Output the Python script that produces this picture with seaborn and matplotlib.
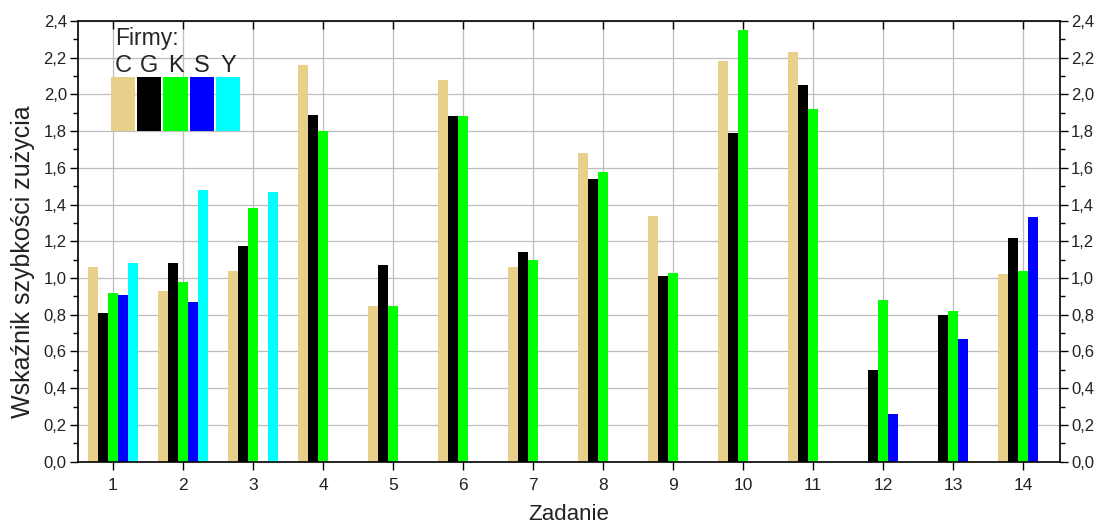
import pandas as pd
import matplotlib
matplotlib.use("Agg")
import matplotlib.pyplot as plt
import seaborn as sns
from matplotlib.patches import Rectangle
from matplotlib.ticker import MultipleLocator, FuncFormatter

tasks = list(range(1, 14 + 1))
firms = ["C", "G", "K", "S", "Y"]
colors = ["#E8D08A", "#000000", "#00FF00", "#0000FF", "#00FFFF"]

# None = no bar for that firm in that task
C = [1.06, 0.93, 1.04, 2.16, 0.85, 2.08, 1.06, 1.68, 1.34, 2.18, 2.23, None, None, 1.02]
G = [0.81, 1.08, 1.175, 1.89, 1.07, 1.88, 1.14, 1.54, 1.01, 1.79, 2.05, 0.50, 0.80, 1.22]
K = [0.92, 0.98, 1.38, 1.80, 0.85, 1.88, 1.10, 1.58, 1.03, 2.35, 1.92, 0.88, 0.82, 1.04]
S = [0.91, 0.87, None, None, None, None, None, None, None, None, None, 0.26, 0.67, 1.33]
Y = [1.08, 1.48, 1.47, None, None, None, None, None, None, None, None, None, None, None]

rows = []
for firm, vals in zip(firms, [C, G, K, S, Y]):
    for t, v in zip(tasks, vals):
        if v is not None:
            rows.append({"Zadanie": str(t), "firma": firm, "wartosc": v})
df = pd.DataFrame(rows)

sns.set_style("white")
plt.rcParams["font.family"] = ["Liberation Sans", "DejaVu Sans"]

fig = plt.figure(figsize=(10.95, 5.24), dpi=100)
ax = fig.add_axes([0.0712, 0.119, 0.8968, 0.841])

sns.barplot(data=df, x="Zadanie", y="wartosc", hue="firma",
            order=[str(t) for t in tasks], hue_order=firms,
            palette=colors, saturation=1, width=0.715, linewidth=0,
            dodge=True, legend=False, ax=ax)

ax.set_xlim(-0.5, 13.53)
ax.set_ylim(0, 2.4)
ax.yaxis.set_major_locator(MultipleLocator(0.2))
ax.yaxis.set_minor_locator(MultipleLocator(0.1))
ax.yaxis.set_major_formatter(FuncFormatter(lambda v, p: f"{v:.1f}".replace(".", ",")))
ax.grid(True, which="major", color="#bdbdbd", linewidth=0.9)
ax.set_axisbelow(True)

for s in ax.spines.values():
    s.set_visible(True)
    s.set_color("black")
    s.set_linewidth(1.2)

ax.tick_params(axis="y", which="both", left=True, right=True, labelright=True,
               direction="out", labelsize=12, color="black", labelcolor="#222222")
ax.tick_params(axis="y", which="major", length=6, width=1, pad=2)
ax.tick_params(axis="y", which="minor", length=3.5, width=1)
ax.tick_params(axis="x", bottom=True, top=True, direction="out", length=6,
               width=1, labelsize=12.5, color="black", labelcolor="#222222", pad=6)
for t in ax.xaxis.get_major_ticks():
    t.tick2line.set_marker(3)  # top ticks pointing inward

ax.set_xlabel("Zadanie", fontsize=16, color="#222222", va="top")
ax.xaxis.set_label_coords(0.5, -0.095)
ax.set_ylabel("Wskaźnik szybkości zużycia", fontsize=18, color="#222222")
ax.yaxis.set_label_coords(-0.044, 0.453)

# legend block in the upper left
ax.text(0.038, 0.945, "Firmy:", transform=ax.transAxes, fontsize=16.5,
        ha="left", va="baseline")
x0, w, gap = 0.0335, 0.0245, 0.0023
for i, (f, c) in enumerate(zip(firms, colors)):
    xi = x0 + i * (w + gap)
    ax.add_patch(Rectangle((xi, 0.751), w, 0.122, transform=ax.transAxes,
                           facecolor=c, edgecolor="none", zorder=5))
    ax.text(xi + w / 2, 0.884, f, transform=ax.transAxes, fontsize=17,
            ha="center", va="baseline")

fig.savefig("out.png", dpi=100)
